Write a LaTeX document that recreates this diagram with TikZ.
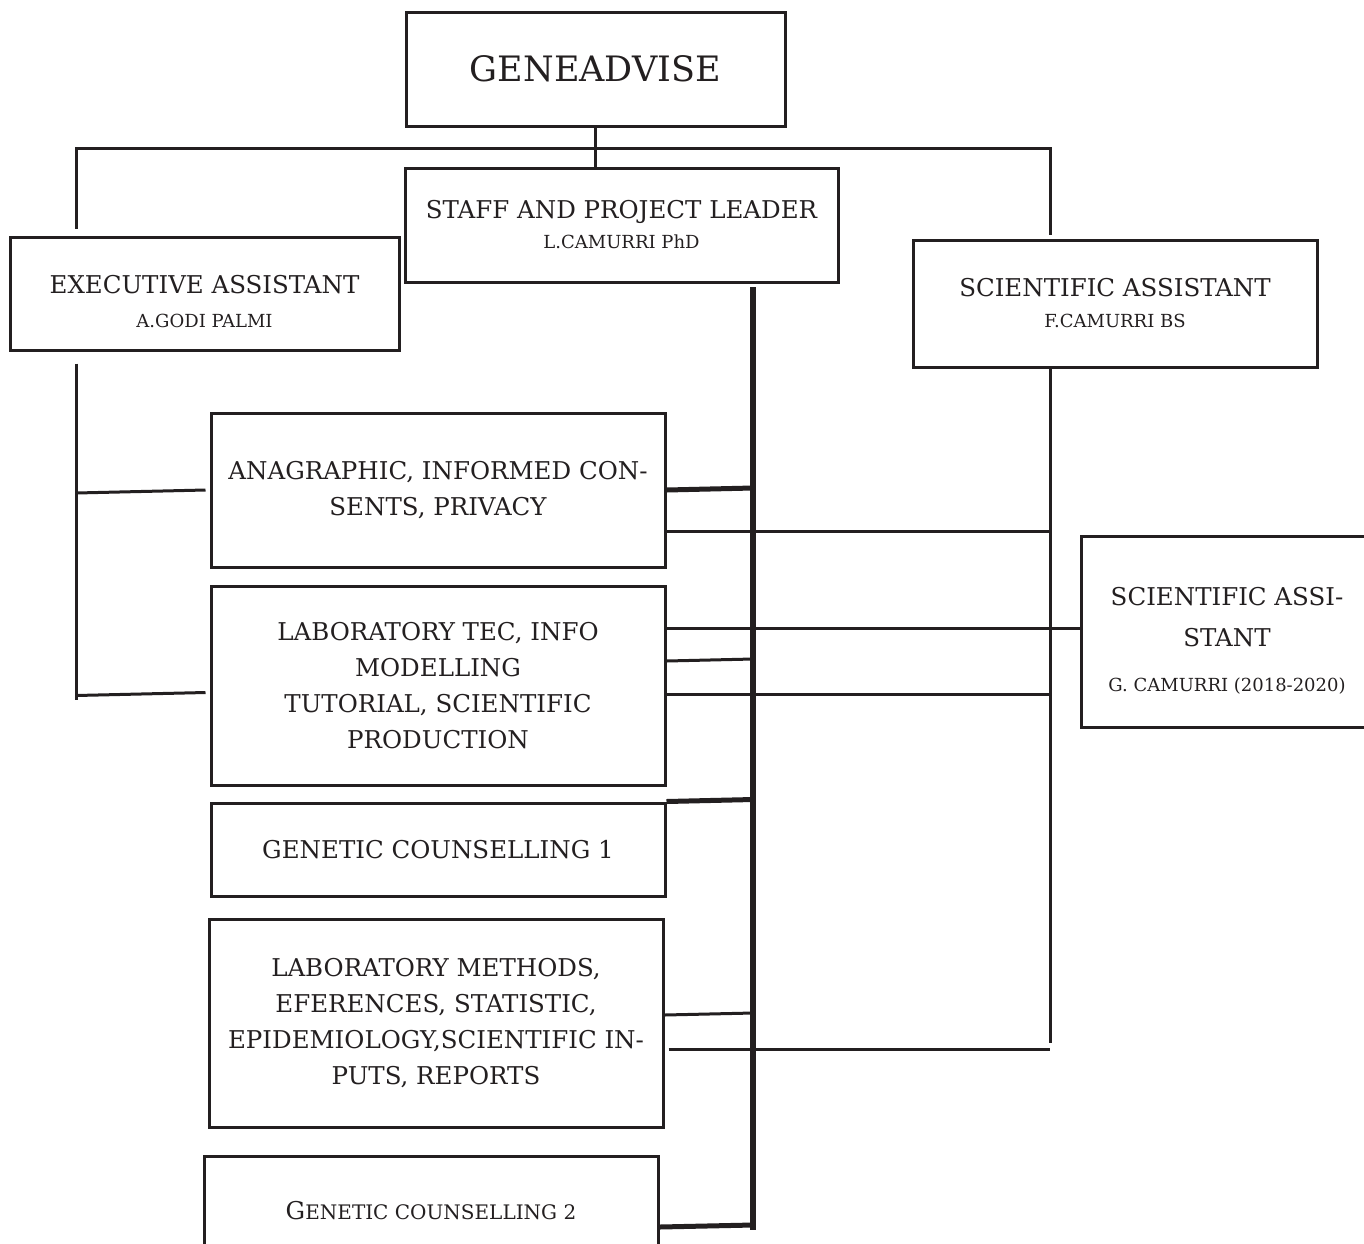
\documentclass[tikz,border=0pt]{standalone}
\usepackage{fontspec}
\setmainfont{DejaVu Serif}
\usetikzlibrary{positioning,calc}
\definecolor{inkgray}{RGB}{35,31,32}
\tikzset{
  orgbox/.style={draw=inkgray, line width=3pt, align=center, text=inkgray,
                 minimum width=#1, inner sep=0pt,
                 font=\fontsize{24.5}{36}\selectfont},
  orgbox/.default=454pt,
  topbox/.style={orgbox=379pt, minimum height=114pt,
                 font=\fontsize{35}{40}\selectfont},
  link/.style={draw=inkgray, line width=3pt},
  boldlink/.style={link, line width=5pt},
  spine/.style={link, line width=6.5pt},
}
\newcommand{\subname}[1]{{\fontsize{18}{20}\selectfont #1}}

\begin{document}
\begin{tikzpicture}[x=1pt,y=-1pt]
  \useasboundingbox (0,0) rectangle (1364,1243);

  % top and second row
  \node[topbox] (gene) at (595.5,69) {GENEADVISE};
  \node[orgbox=433pt, minimum height=114pt] (staff) at (621.5,225)
        {STAFF AND PROJECT LEADER\\[-6pt]\subname{L.CAMURRI PhD}};
  \node[orgbox=389pt, minimum height=113pt] (exec) at (204.5,293.5)
        {\rule{0pt}{34pt}EXECUTIVE ASSISTANT\\[-2pt]\subname{A.GODI PALMI}};
  \node[orgbox=404pt, minimum height=127pt] (scia) at (1115,303.5)
        {SCIENTIFIC ASSISTANT\\[-5pt]\subname{F.CAMURRI BS}};

  % task boxes
  \node[orgbox, minimum height=154pt] (anag) at (438,490)
        {ANAGRAPHIC, INFORMED CON-\\SENTS, PRIVACY};
  \node[orgbox, minimum height=199pt] (labtec) at (438,685.5)
        {LABORATORY TEC, INFO\\MODELLING\\TUTORIAL, SCIENTIFIC\\PRODUCTION};
  \node[orgbox, minimum height=93pt] (gc1) at (438,849.5)
        {GENETIC COUNSELLING 1};
  \node[orgbox, minimum height=208pt] (labmeth) at (436,1023)
        {LABORATORY METHODS,\\EFERENCES, STATISTIC,\\EPIDEMIOLOGY,SCIENTIFIC IN-\\PUTS, REPORTS};
  \node[orgbox, minimum height=110pt] (gc2) at (431,1211)
        {G{\fontsize{20}{20}\selectfont ENETIC COUNSELLING 2}};
  \node[orgbox=292pt, minimum height=191pt] (scib) at (1227,631.5)
        {\rule{0pt}{36pt}SCIENTIFIC ASSI-\\[5pt]STANT\\[9pt]\subname{G. CAMURRI (2018-2020)}};

  % bus ends
  \coordinate (busL)   at (76,148);
  \coordinate (busR)   at (1050,148);
  \coordinate (execT)  at (76,700);
  \coordinate (sciT)   at (1050,1043);
  \coordinate (spineT) at (753,287);
  \coordinate (spineB) at (753,1230);

  \draw[link] (gene.south) -- (gene.south |- staff.north);
  \draw[link] ([yshift=7pt]busL |- exec.north) -- (busL) -- (busR)
              -- ([yshift=4pt]busR |- scia.north);
  \draw[link] ([yshift=-12pt]execT |- exec.south) -- (execT);
  \draw[link] (sciT |- scia.south) -- (sciT);
  \draw[spine] (spineT) -- (spineB);

  \draw[link] ([yshift=-3pt]anag.west -| execT) -- ([xshift=-4pt]anag.west);
  \draw[link] ([yshift=-10pt]labtec.west -| execT) -- ([yshift=-7pt,xshift=-4pt]labtec.west);

  \draw[boldlink] (anag.east) -- ([yshift=2pt]anag.east -| spineT);
  \draw[link] ([yshift=-41pt]anag.east) -- ([yshift=-41pt]anag.east -| sciT);
  \draw[link] ([yshift=57.5pt]labtec.east) -- ([yshift=57.5pt]labtec.east -| scib.west);
  \draw[link] ([yshift=24.5pt]labtec.east) -- ([yshift=26.5pt]labtec.east -| spineT);
  \draw[link] ([yshift=-8.5pt]labtec.east) -- ([yshift=-8.5pt]labtec.east -| sciT);
  \draw[boldlink] (gc1.north east) -- ([yshift=2pt]gc1.north east -| spineT);
  \draw[link] ([yshift=8pt]labmeth.east) -- ([yshift=10pt]labmeth.east -| spineT);
  \draw[link] ([yshift=-26pt,xshift=4pt]labmeth.east) -- ([yshift=-26pt]labmeth.east -| sciT);
  \draw[boldlink] ([yshift=-16pt]gc2.east) -- ([yshift=-14pt]gc2.east -| spineT);
\end{tikzpicture}
\end{document}
